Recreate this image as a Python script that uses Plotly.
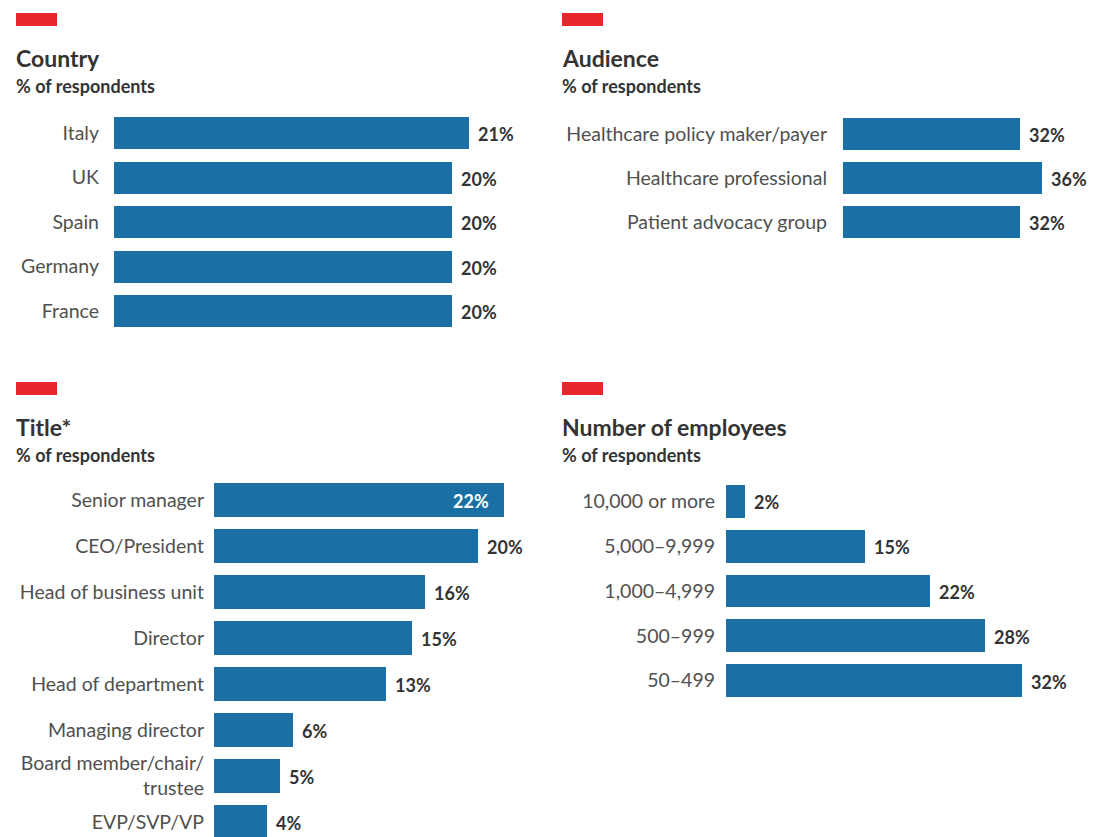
import plotly.graph_objects as go

# data
country_labels = ["Italy", "UK", "Spain", "Germany", "France"]
country_values = [21, 20, 20, 20, 20]

audience_labels = ["Healthcare policy maker/payer", "Healthcare professional", "Patient advocacy group"]
audience_values = [32, 36, 32]

title_labels = ["Senior manager", "CEO/President", "Head of business unit", "Director",
                "Head of department", "Managing director", "Board member/chair/<br>trustee", "EVP/SVP/VP"]
title_values = [22, 20, 16, 15, 13, 6, 5, 4]

employee_labels = ["10,000 or more", "5,000–9,999", "1,000–4,999", "500–999", "50–499"]
employee_values = [2, 15, 22, 28, 32]

# page has an 8px body margin, so the figure is drawn 8px in from the corner
OFF = 8
W, H = 1100 - OFF, 837 - OFF
BLUE = "#1a70a5"
RED = "#e8262b"
DARK = "#333333"
TICK = "#505050"
FONT = "Lato"


def px_x(p):
    return (p - OFF) / W


def px_y(p):
    return 1 - (p - OFF) / H


# panel geometry in screen pixels
panels = [
    dict(labels=country_labels, values=country_values, x0=114, x1=540, scale=16.9, y0=110.75, y1=333.25, bw=0.72),
    dict(labels=audience_labels, values=audience_values, x0=843, x1=1100, scale=5.52, y0=112, y1=244, bw=0.73),
    dict(labels=title_labels, values=title_values, x0=214, x1=540, scale=13.2, y0=477, y1=837, bw=0.72,
         yrange=[7.326, -0.5]),
    dict(labels=employee_labels, values=employee_values, x0=726, x1=1100, scale=9.25, y0=479, y1=703, bw=0.73),
]

standoffs = [14, 15, 9, 10]

fig = go.Figure()
annotations = []
for i, p in enumerate(panels, start=1):
    xa = "x" if i == 1 else f"x{i}"
    ya = "y" if i == 1 else f"y{i}"
    fig.add_trace(go.Bar(
        x=p["values"], y=p["labels"], orientation="h",
        marker=dict(color=BLUE, line=dict(width=0)),
        width=p["bw"], xaxis=xa, yaxis=ya, hoverinfo="skip",
    ))
    xkey = "xaxis" if i == 1 else f"xaxis{i}"
    ykey = "yaxis" if i == 1 else f"yaxis{i}"
    yaxis = dict(
        domain=[max(0, px_y(p["y1"])), px_y(p["y0"])], anchor=xa,
        showgrid=False, zeroline=False, showline=False, ticks="",
        tickfont=dict(family=FONT, size=19.5, color=TICK),
        ticklabelstandoff=standoffs[i - 1], fixedrange=True,
    )
    if "yrange" in p:
        yaxis["range"] = p["yrange"]
    else:
        yaxis["autorange"] = "reversed"
    fig.update_layout(**{
        xkey: dict(domain=[px_x(p["x0"]), min(1, px_x(p["x1"]))],
                   range=[0, (min(p["x1"], 1100) - p["x0"]) / p["scale"]],
                   anchor=ya, visible=False, fixedrange=True),
        ykey: yaxis,
    })
    for lab, v in zip(p["labels"], p["values"]):
        inside = (i == 3 and lab == "Senior manager")
        annotations.append(dict(
            x=v, y=lab, xref=xa, yref=ya, text=f"<b>{v}%</b>",
            showarrow=False, xanchor="right" if inside else "left",
            xshift=-13 if inside else 7, yshift=-1,
            font=dict(family=FONT, size=18, color="white" if inside else DARK),
        ))

# panel headers
headers = [
    (16, 13, "Country"),
    (562, 13, "Audience"),
    (16, 382, "Title*"),
    (562, 382, "Number of employees"),
]
shapes = []
for hx, hy, text in headers:
    shapes.append(dict(type="rect", xref="paper", yref="paper",
                       x0=px_x(hx), x1=px_x(hx + 41), y0=px_y(hy + 13), y1=px_y(hy),
                       fillcolor=RED, line=dict(width=0)))
    annotations.append(dict(x=px_x(hx - 2), y=px_y(hy + 45), xref="paper", yref="paper",
                            text=f"<b>{text}</b>", showarrow=False, xanchor="left", yanchor="middle",
                            font=dict(family=FONT, size=23, color=DARK)))
    annotations.append(dict(x=px_x(hx - 2), y=px_y(hy + 73), xref="paper", yref="paper",
                            text="<b>% of respondents</b>", showarrow=False, xanchor="left", yanchor="middle",
                            font=dict(family=FONT, size=18, color=DARK)))

fig.update_layout(
    width=W, height=H,
    margin=dict(l=0, r=0, t=0, b=0),
    paper_bgcolor="white", plot_bgcolor="white",
    showlegend=False, bargap=0,
    shapes=shapes, annotations=annotations,
    font=dict(family=FONT, color=DARK),
)

fig.write_html("out.html", config={"displayModeBar": False})
